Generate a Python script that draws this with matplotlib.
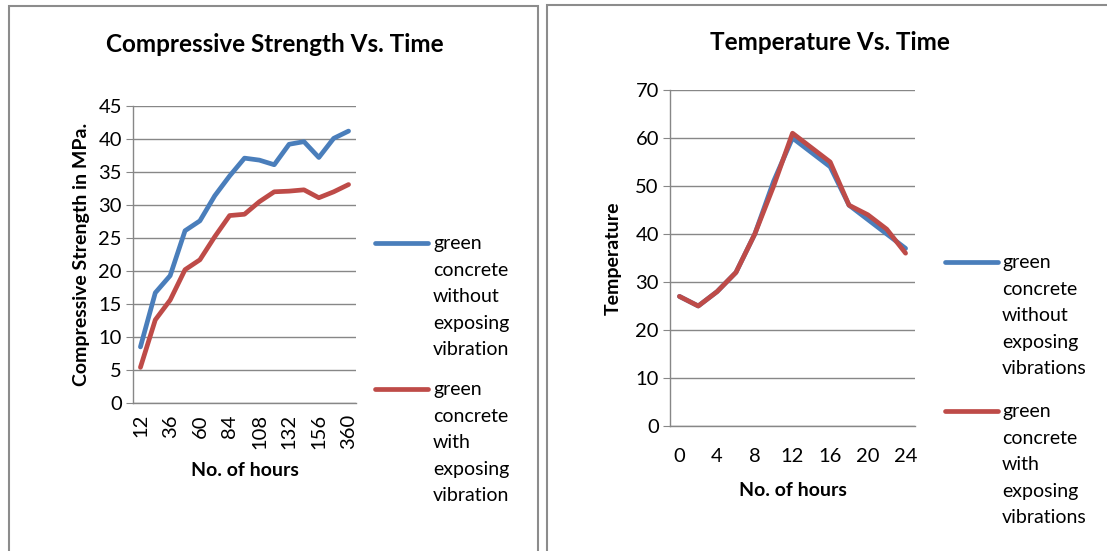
import matplotlib
matplotlib.use("Agg")
import matplotlib.pyplot as plt
from matplotlib.patches import Rectangle
from matplotlib.lines import Line2D

# ---------------- data ----------------
hours_left = ["12", "24", "36", "48", "60", "72", "84", "96", "108", "120",
              "132", "144", "156", "168", "360"]
strength_without = [8.5, 16.7, 19.3, 26.1, 27.6, 31.4, 34.4, 37.1, 36.8, 36.1,
                    39.2, 39.6, 37.2, 40.1, 41.2]
strength_with = [5.4, 12.6, 15.6, 20.2, 21.7, 25.2, 28.4, 28.6, 30.5, 32.0,
                 32.1, 32.3, 31.1, 32.0, 33.1]

hours_right = ["0", "2", "4", "6", "8", "10", "12", "14", "16", "18", "20", "22", "24"]
temp_without = [27, 25, 28, 32, 40, 51, 60, 57, 54, 46, 43, 40, 37]
temp_with = [27, 25, 28, 32, 40, 50, 61, 58, 55, 46, 44, 41, 36]

left_labels = ["green\nconcrete\nwithout\nexposing\nvibration",
               "green\nconcrete\nwith\nexposing\nvibration"]
right_labels = ["green\nconcrete\nwithout\nexposing\nvibrations",
                "green\nconcrete\nwith\nexposing\nvibrations"]

BLUE = "#4A7EBB"
RED = "#BE4B48"
GRID = "#878787"
FONT = "Lato"
LW = 3.4

W, H = 1107, 551
fig = plt.figure(figsize=(W / 100, H / 100), dpi=100)


def fx(px):
    return px / W


def fy(py):
    return 1 - py / H


# chart borders
fig.patches.append(Rectangle((fx(9), fy(560)), fx(538) - fx(9), fy(6) - fy(560),
                             transform=fig.transFigure, fill=False,
                             edgecolor="#8c8c8c", linewidth=1.5))
fig.patches.append(Rectangle((fx(547), fy(560)), fx(1120) - fx(547), fy(5) - fy(560),
                             transform=fig.transFigure, fill=False,
                             edgecolor="#8c8c8c", linewidth=1.5))


def style_axes(ax, ymax, ystep):
    ax.set_ylim(0, ymax)
    ax.set_yticks(range(0, ymax + 1, ystep))
    ax.grid(axis="y", color=GRID, linewidth=1.0)
    ax.set_axisbelow(True)
    for s in ["top", "right"]:
        ax.spines[s].set_visible(False)
    for s in ["left", "bottom"]:
        ax.spines[s].set_color(GRID)
        ax.spines[s].set_linewidth(1.0)
    ax.tick_params(axis="y", direction="out", length=5, color=GRID,
                   labelsize=14.5, pad=3)
    ax.tick_params(axis="x", length=0, labelsize=14.5)
    for t in ax.get_yticklabels() + ax.get_xticklabels():
        t.set_fontfamily(FONT)


def manual_legend(x_line0, x_line1, x_text, y_first, labels, colors, gap):
    for i, (lab, col) in enumerate(zip(labels, colors)):
        y = y_first + i * gap
        fig.add_artist(Line2D([fx(x_line0), fx(x_line1)], [fy(y), fy(y)],
                              transform=fig.transFigure, color=col,
                              linewidth=LW, solid_capstyle="round"))
        fig.text(fx(x_text), fy(y - 8), lab, ha="left", va="top",
                 fontsize=14, family=FONT, linespacing=1.68)


# ---------------- left chart ----------------
ax1 = fig.add_axes([fx(133), fy(403), fx(356) - fx(133), fy(106) - fy(403)])
xl = list(range(len(hours_left)))
ax1.plot(xl, strength_without, color=BLUE, linewidth=LW, solid_capstyle="round")
ax1.plot(xl, strength_with, color=RED, linewidth=LW, solid_capstyle="round")
ax1.set_xlim(-0.5, len(hours_left) - 0.5)
ax1.set_xticks(xl[::2])
ax1.set_xticklabels(hours_left[::2], rotation=90)
style_axes(ax1, 45, 5)
ax1.tick_params(axis="x", pad=8)
ax1.set_xlabel("No. of hours", fontsize=14, fontweight="bold", family=FONT, labelpad=9)
ax1.set_ylabel("Compressive Strength in MPa.", fontsize=14, fontweight="bold",
               family=FONT, labelpad=6)
fig.text(fx(275), fy(44), "Compressive Strength Vs. Time", ha="center", va="center",
         fontsize=17.5, fontweight="bold", family=FONT)
manual_legend(375, 428, 433, 243, left_labels, [BLUE, RED], 146)

# ---------------- right chart ----------------
ax2 = fig.add_axes([fx(670), fy(426), fx(915) - fx(670), fy(90) - fy(426)])
xr = list(range(len(hours_right)))
ax2.plot(xr, temp_without, color=BLUE, linewidth=LW, solid_capstyle="round")
ax2.plot(xr, temp_with, color=RED, linewidth=LW, solid_capstyle="round")
ax2.set_xlim(-0.5, len(hours_right) - 0.5)
ax2.set_xticks(xr[::2])
ax2.set_xticklabels(hours_right[::2])
style_axes(ax2, 70, 10)
ax2.tick_params(axis="x", pad=16)
ax2.set_xlabel("No. of hours", fontsize=14, fontweight="bold", family=FONT, labelpad=12)
ax2.set_ylabel("Temperature", fontsize=14, fontweight="bold", family=FONT, labelpad=10)
fig.text(fx(830), fy(42), "Temperature Vs. Time", ha="center", va="center",
         fontsize=17.5, fontweight="bold", family=FONT)
manual_legend(945, 998, 1002, 262, right_labels, [BLUE, RED], 149)

fig.savefig("out.png", dpi=100, facecolor="white")
